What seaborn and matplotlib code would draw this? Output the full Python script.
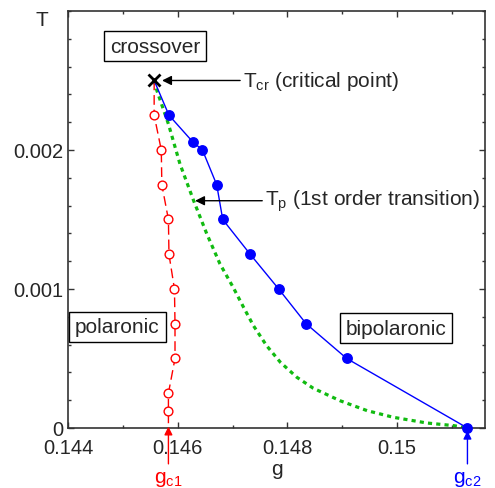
import matplotlib
matplotlib.use('Agg')
import matplotlib.pyplot as plt
import matplotlib.ticker as mticker
import seaborn as sns

# critical point
g_cr = 0.14557
T_cr = 0.0025

# polaronic boundary (red, open circles)
g_pol = [0.14557, 0.14570, 0.14571, 0.14583, 0.14584, 0.14594, 0.14595, 0.14595, 0.14583, 0.14583]
T_pol = [0.00225, 0.00200, 0.00175, 0.00150, 0.00125, 0.00100, 0.00075, 0.00050, 0.00025, 0.000125]
g_c1 = 0.14583

# bipolaronic boundary (blue, filled circles)
g_bip = [0.14584, 0.14627, 0.14645, 0.14671, 0.14682, 0.14732, 0.14784, 0.14834, 0.14908, 0.15128]
T_bip = [0.00225, 0.00206, 0.00200, 0.00175, 0.00150, 0.00125, 0.00100, 0.00075, 0.00050, 0.0]
g_c2 = 0.15128

# first order transition T_p (green dotted)
g_tp = [0.14557, 0.14562, 0.14583, 0.14604, 0.14629, 0.14653, 0.14677, 0.14701, 0.14720,
        0.14738, 0.14762, 0.14787, 0.14817, 0.14847, 0.14896, 0.14945, 0.14993, 0.15054,
        0.15103, 0.15128]
T_tp = [0.00250, 0.002427, 0.002187, 0.00190, 0.001635, 0.001396, 0.00118, 0.001012, 0.000868,
        0.000736, 0.000592, 0.000473, 0.000365, 0.000286, 0.000196, 0.000125, 0.000077, 0.000036,
        0.000017, 0.0]

sns.set_style('ticks')
plt.rcParams['font.family'] = ['Liberation Sans', 'DejaVu Sans']
plt.rcParams['mathtext.default'] = 'regular'

fig = plt.figure(figsize=(4.95, 4.89), dpi=100)
ax = fig.add_axes([0.1374, 0.1227, 0.8424, 0.8528])

# green dotted T_p
sns.lineplot(x=g_tp, y=T_tp, sort=False, estimator=None, ax=ax,
             color='#11bb11', lw=2.3, linestyle=(0, (1.3, 1.3)), zorder=2)

# red dashed line from critical point down to g_c1
sns.lineplot(x=[g_cr] + g_pol + [g_c1], y=[T_cr] + T_pol + [0.0], sort=False,
             estimator=None, ax=ax, color='red', lw=1.0,
             linestyle=(0, (7, 3.5)), zorder=3)
ax.plot(g_pol, T_pol, ls='none', marker='o', ms=6.3, mfc='white', mec='red',
        mew=1.0, zorder=4)

# blue line from critical point to g_c2
sns.lineplot(x=[g_cr] + g_bip, y=[T_cr] + T_bip, sort=False, estimator=None,
             ax=ax, color='blue', lw=1.0, zorder=3)
ax.plot(g_bip, T_bip, ls='none', marker='o', ms=6.8, mfc='blue', mec='blue',
        zorder=4, clip_on=False)

# critical point cross
ax.plot([g_cr], [T_cr], ls='none', marker='x', ms=8.5, mew=2, color='black', zorder=5)

ax.set_xlim(0.144, 0.1516)
ax.set_ylim(0, 0.003)
ax.set_xticks([0.144, 0.146, 0.148, 0.150])
ax.set_yticks([0, 0.001, 0.002])
ax.xaxis.set_minor_locator(mticker.MultipleLocator(0.001))
ax.yaxis.set_minor_locator(mticker.MultipleLocator(0.0002))
ax.xaxis.set_major_formatter(mticker.FuncFormatter(lambda v, p: '%g' % round(v, 6)))
ax.yaxis.set_major_formatter(mticker.FuncFormatter(lambda v, p: '%g' % round(v, 6)))
ax.tick_params(which='both', direction='in', top=True, right=True,
               labelsize=14.5, color='#333333', width=1.0)
ax.tick_params(which='major', length=4.3, pad=3)
ax.tick_params(which='minor', length=2.5)
ax.tick_params(axis='x', which='major', pad=7)
for s in ax.spines.values():
    s.set_color('#333333')
    s.set_linewidth(1.2)

ax.set_xlabel('')
ax.set_ylabel('')
fig.text(42 / 495, 1 - 20 / 489, 'T', fontsize=15, ha='center', va='center')
fig.text(277 / 495, 1 - 470 / 489, 'g', fontsize=15, ha='center', va='center')

box = dict(boxstyle='square,pad=0.28', fc='white', ec='black', lw=1.0)
ax.text(0.14559, 0.002748, 'crossover', fontsize=15, ha='center', va='center', bbox=box)
ax.text(0.14490, 0.000727, 'polaronic', fontsize=15, ha='center', va='center', bbox=box)
ax.text(0.14998, 0.000719, 'bipolaronic', fontsize=15, ha='center', va='center', bbox=box)

arrow = dict(arrowstyle='-|>', color='black', lw=1.0, mutation_scale=14,
             shrinkA=0, shrinkB=0)
ax.annotate('', xy=(0.145714, T_cr), xytext=(0.147137, T_cr), arrowprops=arrow)
ax.text(0.147191, T_cr, r'T$_{cr}$ (critical point)', fontsize=15, ha='left', va='center')
ax.annotate('', xy=(0.146316, 0.001635), xytext=(0.14754, 0.001635), arrowprops=arrow)
ax.text(0.147593, 0.001635, r'T$_p$ (1st order transition)', fontsize=15,
        ha='left', va='center')

ax.annotate(r'g$_{c1}$', xy=(g_c1, 0.00001), xytext=(g_c1, -0.00036),
            fontsize=15, color='red', ha='center', va='center', annotation_clip=False,
            arrowprops=dict(arrowstyle='-|>', color='red', lw=1.0, mutation_scale=12,
                            shrinkA=1, shrinkB=0))
ax.annotate(r'g$_{c2}$', xy=(g_c2, -0.00002), xytext=(g_c2, -0.00036),
            fontsize=15, color='blue', ha='center', va='center', annotation_clip=False,
            arrowprops=dict(arrowstyle='-|>', color='blue', lw=1.0, mutation_scale=12,
                            shrinkA=1, shrinkB=0))

fig.savefig('out.png', dpi=100)
